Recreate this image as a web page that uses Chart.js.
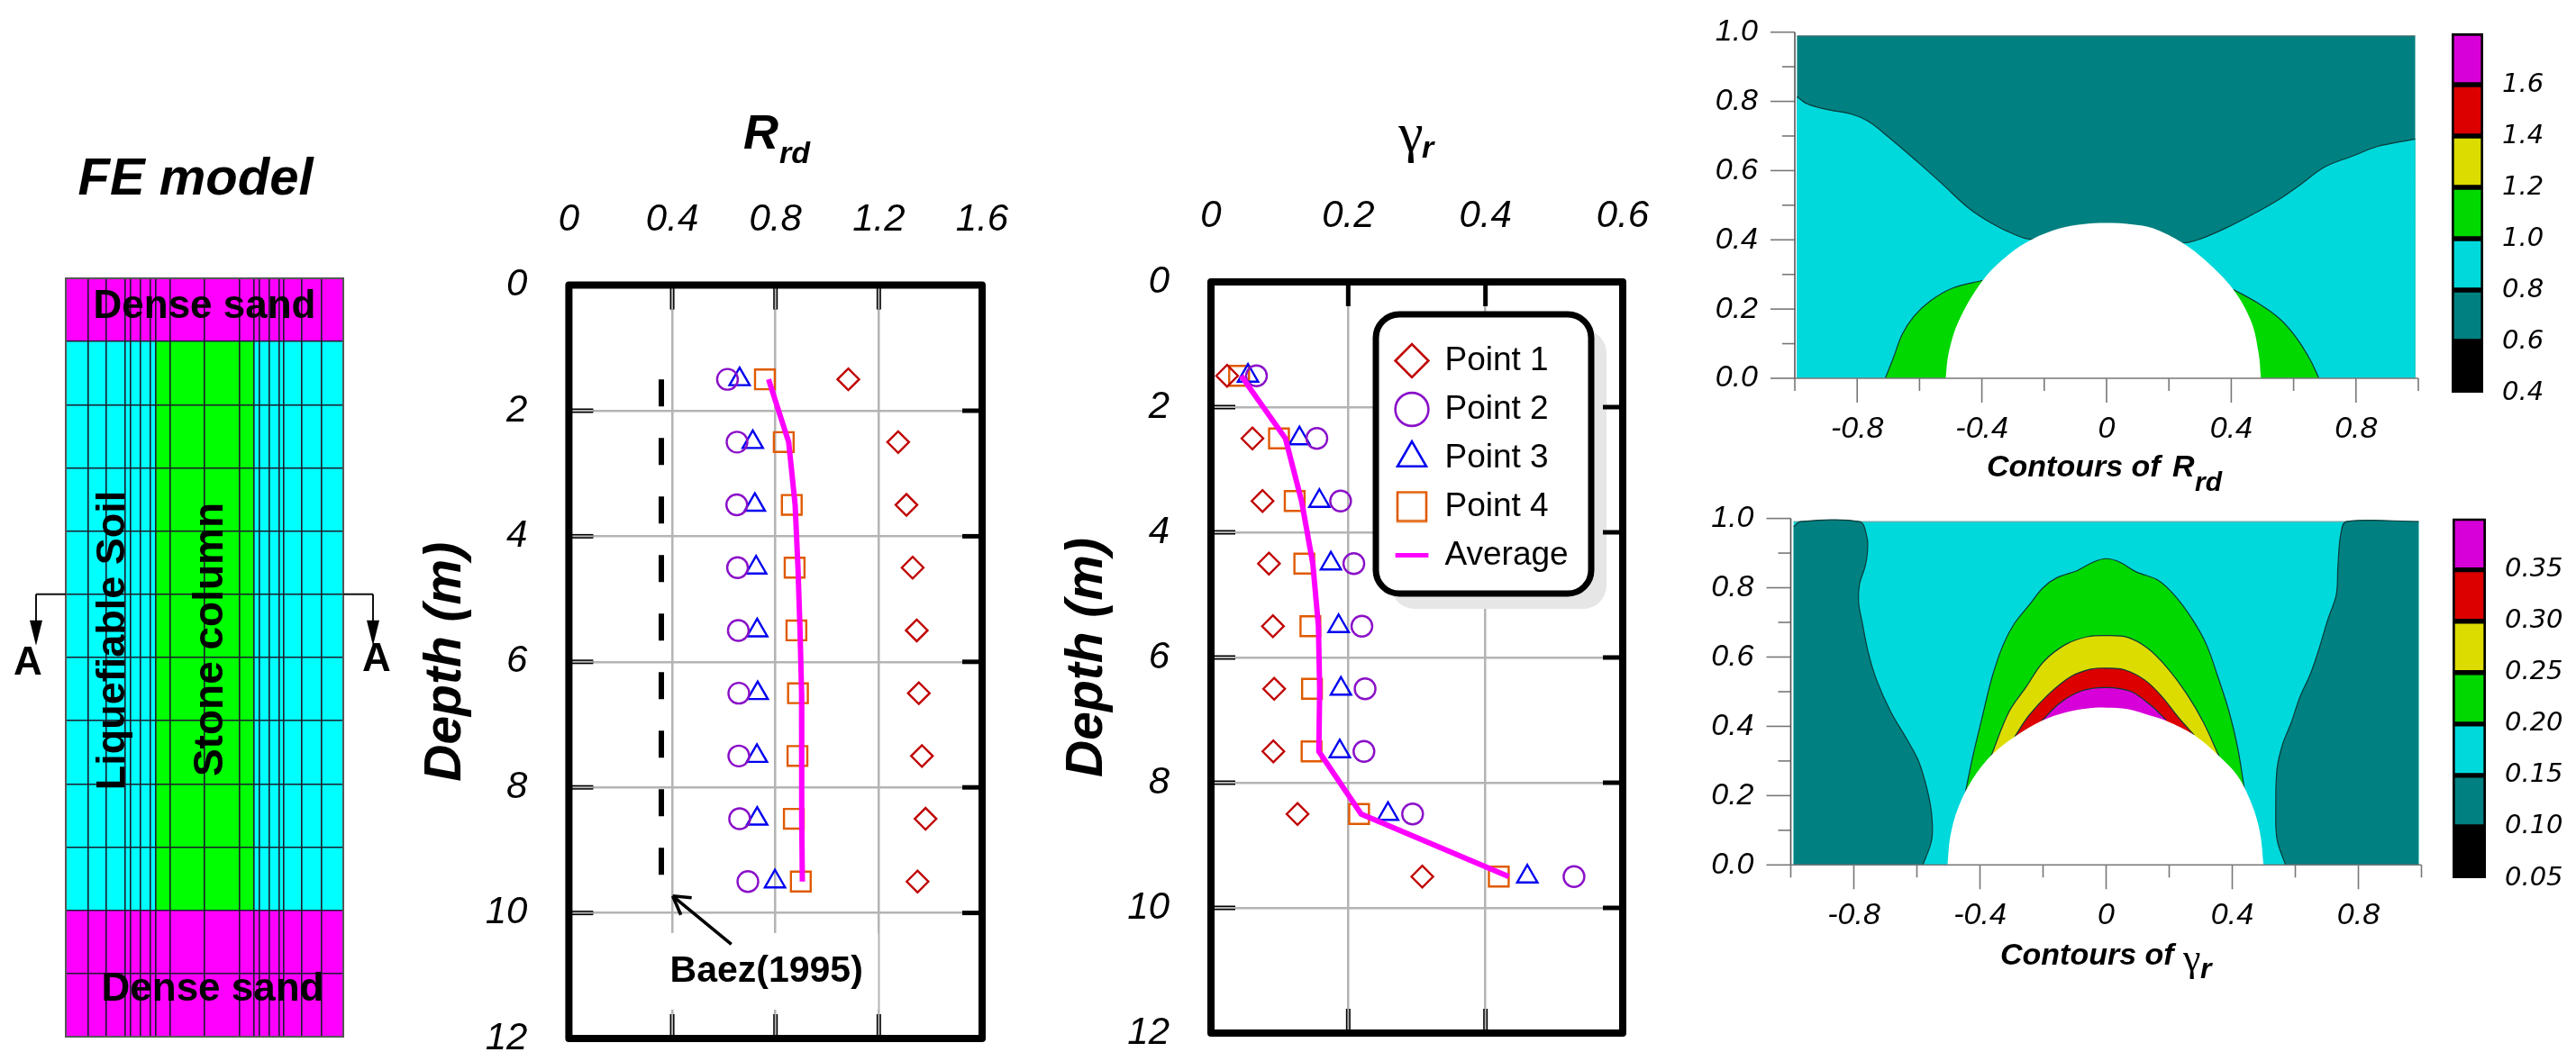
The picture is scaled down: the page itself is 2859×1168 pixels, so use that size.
<!DOCTYPE html>
<html><head><meta charset="utf-8">
<style>html,body{margin:0;padding:0;background:#fff;width:2859px;height:1168px;overflow:hidden}canvas{position:absolute}</style>
<script src="https://cdn.jsdelivr.net/npm/chart.js@4"></script>
</head><body>
<script>
// ---------- DATA ----------
const depths=[1.5,2.5,3.5,4.5,5.5,6.5,7.5,8.5,9.5];
const rrdPoint1=[1.082,1.275,1.307,1.331,1.347,1.355,1.367,1.381,1.350];
const rrdPoint2=[.614,.651,.650,.653,.656,.658,.658,.661,.693];
const rrdPoint3=[.661,.712,.720,.725,.729,.731,.728,.729,.798];
const rrdPoint4=[.759,.832,.863,.874,.881,.887,.885,.871,.898];
const rrdAverage=[.773,.851,.876,.887,.895,.901,.902,.901,.904];
const baezValues=[.358,.358,.358,.358,.358,.358,.358,.358,.358];
const gamPoint1=[.0235,.0604,.0751,.0845,.0903,.0921,.0909,.1261,.3079];
const gamPoint2=[.0663,.1543,.1889,.2082,.2199,.2246,.2229,.2938,.529];
const gamPoint3=[.054,.129,.158,.1748,.186,.1894,.1877,.258,.461];
const gamPoint4=[.041,.0991,.122,.136,.1449,.1472,.1466,.2158,.4194];
const gamAverage=[.044,.1085,.132,.1484,.1566,.1584,.1572,.2188,.434];
const depthTicks=[0,2,4,6,8,10,12];
const rrdTicks=[0,.4,.8,1.2,1.6];
const gamTicks=[0,.2,.4,.6];
const seriesNames=['Point 1','Point 2','Point 3','Point 4','Average'];

const feColumns=[-.836,-.708,-.573,-.537,-.461,-.388,-.353,-.251,0,.253,.355,.392,.466,.539,.573,.703,.842];
const feRows=[0,1,2,3,4,5,6,7,8,9,10,11,12];
const feStoneColumn=[-.353,.355];
const feSoilLayers=[1,10];

const contourYTicks=[0,.2,.4,.6,.8,1];
const contourYMinor=[.1,.3,.5,.7,.9];
const contourXTicks=[-.8,-.4,0,.4,.8];
const contourXMinor=[-1,-.6,-.2,.2,.6,1];

const rrdTop=[[-.993,.989],[.99,.989]];
const rrdCyan=[[-.993,.814],[-.963,.794],[-.899,.777],[-.818,.763],[-.764,.742],[-.701,.698],[-.610,.628],[-.529,.563],[-.439,.489],[-.367,.447],[-.294,.415],[-.240,.401],[.244,.391],[.302,.403],[.392,.438],[.482,.480],[.554,.517],[.627,.563],[.699,.610],[.789,.642],[.870,.670],[.934,.682],[.990,.691]];
const rrdGreenL=[[-.710,0],[-.683,.061],[-.656,.126],[-.619,.178],[-.565,.224],[-.493,.261],[-.397,.283]];
const rrdGreenR=[[.406,.257],[.482,.219],[.554,.173],[.609,.117],[.654,.052],[.681,0]];
const rrdHole=[[-.516,0],[-.507,.071],[-.475,.164],[-.397,.283],[-.312,.359],[-.240,.401],[-.150,.433],[-.078,.445],[0,.449],[.078,.445],[.150,.433],[.244,.391],[.320,.338],[.406,.257],[.464,.164],[.488,.071],[.495,0]];

const gamTop=[[-.991,.991],[.991,.991]];
const gamTealL=[[-.991,.976],[-.970,.991],[-.782,.991],[-.758,.944],[-.757,.903],[-.764,.862],[-.782,.810],[-.785,.759],[-.773,.698],[-.755,.616],[-.728,.534],[-.683,.442],[-.630,.360],[-.594,.298],[-.567,.216],[-.553,.144],[-.553,.073],[-.581,0]];
const gamTealR=[[.991,.991],[.762,.991],[.744,.954],[.735,.862],[.730,.780],[.703,.708],[.676,.626],[.649,.554],[.614,.483],[.587,.411],[.560,.349],[.542,.278],[.538,.165],[.542,.073],[.569,0]];
const gamGreen=[[-.447,.206],[-.424,.308],[-.397,.411],[-.361,.544],[-.326,.636],[-.290,.698],[-.245,.749],[-.200,.800],[-.156,.829],[-.093,.849],[-.039,.875],[0,.884],[.041,.875],[.095,.846],[.166,.821],[.220,.775],[.274,.708],[.318,.636],[.354,.544],[.390,.442],[.417,.339],[.440,.211]];
const gamYellow=[[-.365,.314],[-.308,.442],[-.254,.513],[-.200,.585],[-.129,.636],[-.057,.659],[0,.662],[.068,.657],[.131,.626],[.193,.570],[.256,.493],[.309,.411],[.358,.314]];
const gamRed=[[-.290,.370],[-.245,.431],[-.182,.493],[-.111,.544],[-.048,.565],[0,.568],[.059,.563],[.122,.534],[.175,.488],[.229,.426],[.279,.375]];
const gamMagenta=[[-.204,.416],[-.147,.467],[-.075,.503],[0,.512],[.077,.501],[.140,.462],[.190,.419]];
const gamHole=[[-.503,0],[-.494,.083],[-.469,.165],[-.424,.247],[-.361,.319],[-.290,.370],[-.204,.416],[-.129,.440],[-.057,.452],[0,.454],[.068,.450],[.140,.431],[.190,.416],[.279,.375],[.358,.314],[.417,.257],[.462,.175],[.488,.093],[.499,0]];

const rrdLevels=[.4,.6,.8,1,1.2,1.4,1.6,1.8];
const rrdLevelLabels=[.4,.6,.8,1,1.2,1.4,1.6];
const gamLevels=[.05,.1,.15,.2,.25,.3,.35,.4];
const gamLevelLabels=[.05,.1,.15,.2,.25,.3,.35];

// ---------- STYLE ----------
const FF="'Liberation Sans'";
const C={teal:'#008080',cyan:'#00d9dc',green:'#00d800',yellow:'#dcdc00',red:'#dc0000',mag:'#d800d8',black:'#000',
 feMag:'#ff00ff',feCyan:'#00ffff',feGreen:'#00ff00',diamond:'#c00000',circle:'#8a10c8',tri:'#0000f0',square:'#e05a00',avg:'#ff00ff',grid:'#b4b4b4'};
const bandColors=[C.black,C.teal,C.cyan,C.green,C.yellow,C.red,C.mag];
const pts=(xs)=>xs.map((x,i)=>({x,y:depths[i]}));
const xy=a=>a.map(p=>({x:p[0],y:p[1]}));

Chart.register({id:'polyFill',beforeDatasetDraw(chart,args){
  const ds=chart.data.datasets[args.index]; if(!ds.polyColor) return;
  const line=args.meta.dataset, ctx=chart.ctx, sx=chart.scales.x, sy=chart.scales.y, d=ds.data;
  line.updateControlPoints(chart.chartArea,'x');
  ctx.save(); ctx.fillStyle=ds.polyColor; ctx.beginPath(); line.path(ctx);
  if(ds.polyBase!==undefined){
    ctx.lineTo(sx.getPixelForValue(d[d.length-1].x),sy.getPixelForValue(ds.polyBase));
    ctx.lineTo(sx.getPixelForValue(d[0].x),sy.getPixelForValue(ds.polyBase));
  }
  ctx.closePath(); ctx.fill(); ctx.restore();
}});

function poly(data,color,base,stroke,tension){
  return {type:'scatter',data:xy(data),showLine:true,pointRadius:0,polyColor:color,polyBase:base,
    borderColor:stroke||'transparent',borderWidth:stroke?1.2:0,tension:tension===undefined?.35:tension};
}
function makeChart(f,a,mode,cfg){
  const cv=document.createElement('canvas');
  cv.style.left=f.x+'px';cv.style.top=f.y+'px';cv.width=f.w;cv.height=f.h;
  cv.style.width=f.w+'px';cv.style.height=f.h+'px';
  document.body.appendChild(cv);
  const o=cfg.options=cfg.options||{};
  o.responsive=false;o.animation=false;o.devicePixelRatio=1;
  const right=f.x+f.w-a.r,bottom=f.y+f.h-a.b;
  if(mode==='top'){
    o.layout={padding:{left:0,top:0,right,bottom}};
    o.scales.x.afterFit=s=>{s.height=a.t-f.y};
    o.scales.y.afterFit=s=>{s.width=a.l-f.x};
  }else if(mode==='bottom'){
    o.layout={padding:{left:0,top:a.t-f.y,right,bottom:0}};
    o.scales.x.afterFit=s=>{s.height=bottom};
    o.scales.y.afterFit=s=>{s.width=a.l-f.x};
  }else{
    o.layout={padding:{left:a.l-f.x,top:a.t-f.y,right:0,bottom}};
    o.scales.y.afterFit=s=>{s.width=right};
  }
  return new Chart(cv,cfg);
}
function txt(chart,s,px,py,font,align,rot,base){
  const c=chart.ctx,cv=chart.canvas;
  c.save();c.translate(px-cv.offsetLeft,py-cv.offsetTop);if(rot)c.rotate(rot);
  c.font=font;c.fillStyle='#000';c.textAlign=align||'center';c.textBaseline=base||'middle';c.fillText(s,0,0);c.restore();
}
function seg(c,x0,y0,x1,y1,col,w){c.strokeStyle=col;c.lineWidth=w;c.lineCap='butt';c.beginPath();c.moveTo(x0,y0);c.lineTo(x1,y1);c.stroke();}

// ---------- FE MODEL ----------
const feArea={l:73,r:381,t:309,b:1151};
const rect=(x0,x1,y0,y1,col)=>poly([[x0,y0],[x1,y0],[x1,y1],[x0,y1]],col,undefined,null,0);
makeChart({x:0,y:150,w:450,h:1050},feArea,'top',{
  type:'scatter',
  data:{datasets:[
    rect(feStoneColumn[0],feStoneColumn[1],feSoilLayers[0],feSoilLayers[1],C.feGreen),
    rect(-1,1,feSoilLayers[0],feSoilLayers[1],C.feCyan),
    rect(-1,1,0,feSoilLayers[0],C.feMag),
    rect(-1,1,feSoilLayers[1],12,C.feMag)
  ]},
  options:{plugins:{legend:{display:false},tooltip:{enabled:false}},
    scales:{
      x:{type:'linear',position:'top',min:-1,max:1,border:{display:false},ticks:{display:false},
         grid:{z:1,color:'#1c1c2c',lineWidth:1.6,drawTicks:false},afterBuildTicks:s=>{s.ticks=[-1,...feColumns,1].map(value=>({value}))}},
      y:{type:'linear',reverse:true,min:0,max:12,border:{display:false},ticks:{display:false},
         grid:{z:1,color:'#1c1c2c',lineWidth:1.6,drawTicks:false},afterBuildTicks:s=>{s.ticks=feRows.map(value=>({value}))}}
    }},
  plugins:[{id:'feAnno',afterDraw(ch){
    const c=ch.ctx;
    const A=ch.chartArea;
    c.strokeStyle='#555';c.lineWidth=2;c.strokeRect(A.left,A.top,A.right-A.left,A.bottom-A.top);
    txt(ch,'FE model',217,200,`italic bold 58px ${FF}`);
    txt(ch,'Dense sand',227,341,`bold 44px ${FF}`);
    txt(ch,'Dense sand',236,1099,`bold 44px ${FF}`);
    txt(ch,'Liquefiable Soil',138,711,`bold 45px ${FF}`,'center',-Math.PI/2,'alphabetic');
    txt(ch,'Stone column',247,710,`bold 46px ${FF}`,'center',-Math.PI/2,'alphabetic');
    const y=ch.scales.y.getPixelForValue(5);
    [[40,73],[414,381]].forEach(([ax,edge])=>{
      seg(c,edge,y,ax,y,'#111',2);seg(c,ax,y,ax,y+34,'#111',2);
      c.fillStyle='#000';c.beginPath();c.moveTo(ax-7,y+29);c.lineTo(ax+7,y+29);c.lineTo(ax,y+57);c.closePath();c.fill();
    });
    txt(ch,'A',31,737,`bold 44px ${FF}`);
    txt(ch,'A',418,733,`bold 44px ${FF}`);
  }}]
});

// ---------- PROFILE CHARTS ----------
function profileDatasets(p1,p2,p3,p4,avg){
  const mk=(d,name,style,col,r)=>({label:name,type:'scatter',data:pts(d),showLine:false,pointStyle:style,pointRadius:r,
    pointBorderColor:col,pointBackgroundColor:'transparent',pointBorderWidth:2.4,borderColor:col,backgroundColor:'transparent'});
  return [
    mk(p1,seriesNames[0],'rectRot',C.diamond,12),
    mk(p2,seriesNames[1],'circle',C.circle,11.5),
    mk(p3,seriesNames[2],'triangle',C.tri,13),
    mk(p4,seriesNames[3],'rect',C.square,15.5),
    {label:seriesNames[4],type:'scatter',data:pts(avg),showLine:true,pointRadius:0,pointStyle:'line',order:-1,
      borderColor:C.avg,borderWidth:6,tension:0}
  ];
}
function profileScales(xTicks,xMax){
  return {
    x:{type:'linear',position:'top',min:0,max:xMax,border:{display:false},
      grid:{color:C.grid,lineWidth:2.5,drawTicks:false},
      afterBuildTicks:s=>{s.ticks=xTicks.map(value=>({value}))},
      ticks:{autoSkip:false,maxRotation:0,minRotation:0,color:'#000',padding:47,font:{family:FF,style:'italic',size:42},callback:v=>String(v)}},
    y:{type:'linear',reverse:true,min:0,max:12,border:{display:false},
      grid:{color:C.grid,lineWidth:2.5,drawTicks:false},
      afterBuildTicks:s=>{s.ticks=depthTicks.map(value=>({value}))},
      ticks:{autoSkip:false,color:'#000',padding:46,font:{family:FF,style:'italic',size:42},callback:v=>String(v)},
      title:{display:true,text:'Depth (m)',color:'#000',padding:0,font:{family:FF,style:'italic',weight:'bold',size:57}}}
  };
}
function frameDraw(ch,topGray,bottomGray){
  const c=ch.ctx,A=ch.chartArea;
  c.save();
  const tick=(x0,y0,x1,y1,gray)=>{seg(c,x0,y0,x1,y1,'#000',5);if(gray)seg(c,x0,y0,x1,y1,C.grid,2);};
  ch.scales.x.ticks.forEach(t=>{ if(t.value===0||t.value===ch.scales.x.max)return;
    const p=ch.scales.x.getPixelForValue(t.value);
    tick(p,A.top,p,A.top+27,topGray);tick(p,A.bottom,p,A.bottom-27,bottomGray);});
  ch.scales.y.ticks.forEach(t=>{ if(t.value===0||t.value===12)return;
    const p=ch.scales.y.getPixelForValue(t.value);
    tick(A.left,p,A.left+27,p,true);tick(A.right,p,A.right-22,p,false);});
  c.strokeStyle='#000';c.lineWidth=8;c.lineJoin='round';c.strokeRect(A.left,A.top,A.right-A.left,A.bottom-A.top);
  c.restore();
}

// Rrd
makeChart({x:461,y:100,w:729,h:1150},{l:631.4,r:1090,t:316.6,b:1153},'top',{
  type:'scatter',
  data:{datasets:[...profileDatasets(rrdPoint1,rrdPoint2,rrdPoint3,rrdPoint4,rrdAverage),
    {label:'Baez(1995)',type:'scatter',data:pts(baezValues),showLine:true,pointRadius:0,borderColor:'#000',borderWidth:6,borderDash:[30,35],tension:0}]},
  options:{plugins:{legend:{display:false},tooltip:{enabled:false}},scales:profileScales(rrdTicks,1.6)},
  plugins:[{id:'rrdAnno',
    beforeDatasetsDraw(ch){
      const c=ch.ctx,X=v=>ch.scales.x.getPixelForValue(v),Y=v=>ch.scales.y.getPixelForValue(v);
      c.save();c.fillStyle='#fff';c.fillRect(X(.364),Y(10.32),X(1.197)-X(.364),Y(11.54)-Y(10.32));c.restore();
    },
    afterDraw(ch){
      frameDraw(ch,true,true);
      const c=ch.ctx,X=v=>ch.scales.x.getPixelForValue(v),Y=v=>ch.scales.y.getPixelForValue(v);
      c.save();
      const tx=X(.402),ty=Y(9.73);
      seg(c,X(.629),Y(10.5),tx,ty,'#000',3.6);
      seg(c,tx,ty,tx+9,ty+21,'#000',3.6);seg(c,tx,ty,tx+21,ty+2,'#000',3.6);
      c.restore();
      txt(ch,'Baez(1995)',X(.765)+ch.canvas.offsetLeft,Y(10.93)+ch.canvas.offsetTop,`bold 41px ${FF}`);
      txt(ch,'R',825,150,`italic bold 54px ${FF}`,'left');
      txt(ch,'rd',865,172,`italic bold 34px ${FF}`,'left');
    }}]
});

// Gamma
const squareIcon=document.createElement('canvas');squareIcon.width=36;squareIcon.height=36;
{const g=squareIcon.getContext('2d');g.strokeStyle=C.square;g.lineWidth=2.6;g.strokeRect(2,2,32,32);}
makeChart({x:1173,y:100,w:720,h:1130},{l:1344,r:1801,t:313,b:1147},'top',{
  type:'scatter',
  data:{datasets:profileDatasets(gamPoint1,gamPoint2,gamPoint3,gamPoint4,gamAverage)},
  options:{plugins:{tooltip:{enabled:false},
    legend:{display:true,position:'chartArea',align:'start',labels:{usePointStyle:true,boxWidth:36,boxHeight:26,padding:17,color:'#000',
      font:{family:FF,size:37},
      generateLabels:ch=>ch.data.datasets.map((d,i)=>({text:d.label,datasetIndex:i,hidden:false,fontColor:'#000',
        fillStyle:'transparent',strokeStyle:i===4?C.avg:d.pointBorderColor,lineWidth:i===4?5:2.6,
        pointStyle:i===3?squareIcon:d.pointStyle,rotation:0}))}}},
    scales:profileScales(gamTicks,.6)},
  plugins:[{id:'gamAnno',
    afterLayout(ch){const L=ch.legend,o=ch.canvas;
      L.left=1532-o.offsetLeft;L.right=1766-o.offsetLeft;L.top=365-o.offsetTop;L.bottom=680-o.offsetTop;L.width=L.right-L.left;L.height=L.bottom-L.top;},
    afterDatasetsDraw(ch){
      const c=ch.ctx,o=ch.canvas,x=1527-o.offsetLeft,y=349-o.offsetTop,w=239,h=310;
      c.save();
      c.fillStyle='#e6e6e6';c.beginPath();c.roundRect(x+17,y+17,w,h,26);c.fill();
      c.fillStyle='#fff';c.strokeStyle='#000';c.lineWidth=7;c.beginPath();c.roundRect(x,y,w,h,26);c.fill();c.stroke();
      c.restore();
      ch.legend.draw();
    },
    afterDraw(ch){
      frameDraw(ch,false,true);
      txt(ch,'\u03B3',1566,152,`62px 'Liberation Serif'`,'center');
      txt(ch,'r',1578,166,`italic bold 34px ${FF}`,'left');
    }}]
});

// ---------- CONTOUR CHARTS ----------
function contourScales(){
  return {
    x:{type:'linear',position:'bottom',min:-1,max:1,border:{display:false},grid:{display:false,drawTicks:false},
      afterBuildTicks:s=>{s.ticks=contourXTicks.map(value=>({value}))},
      ticks:{autoSkip:false,maxRotation:0,minRotation:0,color:'#000',padding:36,font:{family:FF,style:'italic',size:34},callback:v=>String(v)}},
    y:{type:'linear',min:0,max:1,border:{display:false},grid:{display:false,drawTicks:false},
      afterBuildTicks:s=>{s.ticks=contourYTicks.map(value=>({value}))},
      ticks:{autoSkip:false,color:'#000',padding:41,font:{family:FF,style:'italic',size:34},callback:v=>Number(v).toFixed(1)}}
  };
}
function contourTicks(ch){
  const c=ch.ctx,A=ch.chartArea,X=v=>ch.scales.x.getPixelForValue(v),Y=v=>ch.scales.y.getPixelForValue(v),col='#777';
  c.save();
  contourYTicks.forEach(v=>seg(c,A.left-27,Y(v),A.left,Y(v),col,1.6));
  contourYMinor.forEach(v=>seg(c,A.left-14,Y(v),A.left,Y(v),col,1.6));
  contourXTicks.forEach(v=>seg(c,X(v),A.bottom,X(v),A.bottom+27,col,1.6));
  contourXMinor.forEach(v=>seg(c,X(v),A.bottom,X(v),A.bottom+14,col,1.6));
  seg(c,A.left,A.top,A.left,A.bottom,'#555',1.6);
  seg(c,A.left,A.bottom,A.right,A.bottom,col,1.6);
  c.restore();
}
const lineC='#0a3a3a';
makeChart({x:1900,y:-50,w:800,h:610},{l:1992,r:2684,t:35.7,b:420},'bottom',{
  type:'scatter',
  data:{datasets:[
    poly(rrdHole,'#fff',0),
    poly(rrdGreenL,C.green,0,lineC),
    poly(rrdGreenR,C.green,0,lineC),
    poly(rrdCyan,C.cyan,0,lineC),
    poly(rrdTop,C.teal,0,'#4a6a6a',0)
  ]},
  options:{plugins:{legend:{display:false},tooltip:{enabled:false}},scales:contourScales()},
  plugins:[{id:'rrdContour',afterDraw(ch){
    contourTicks(ch);
    txt(ch,'Contours of ',2205,520,`italic bold 34px ${FF}`,'left');
    txt(ch,'R',2411,520,`italic bold 34px ${FF}`,'left');
    txt(ch,'rd',2436,537,`italic bold 30px ${FF}`,'left');
  }}]
});
makeChart({x:1900,y:495,w:800,h:650},{l:1987.5,r:2687.5,t:575.6,b:960.3},'bottom',{
  type:'scatter',
  data:{datasets:[
    poly(gamHole,'#fff',0),
    poly(gamMagenta,C.mag,0,lineC),
    poly(gamRed,C.red,0,lineC),
    poly(gamYellow,C.yellow,0,lineC),
    poly(gamGreen,C.green,0,lineC),
    poly(gamTealL,C.teal,0,lineC),
    poly(gamTealR,C.teal,0,lineC),
    poly(gamTop,C.cyan,0,'#7aa',0)
  ]},
  options:{plugins:{legend:{display:false},tooltip:{enabled:false}},scales:contourScales()},
  plugins:[{id:'gamContour',afterDraw(ch){
    contourTicks(ch);
    txt(ch,'Contours of ',2220,1062,`italic bold 34px ${FF}`,'left');
    txt(ch,'\u03B3',2423,1066,`44px 'Liberation Serif'`,'left');
    txt(ch,'r',2442,1077,`italic bold 32px ${FF}`,'left');
  }}]
});

// ---------- COLOUR BARS ----------
function colorBar(frame,area,levels,labels,fmt){
  const lo=levels[0],hi=levels[levels.length-1];
  makeChart(frame,area,'bar',{
    type:'bar',
    data:{labels:['band'],datasets:bandColors.map((col,i)=>({data:[[levels[i],levels[i+1]]],backgroundColor:col,borderColor:'#000',borderWidth:3,borderSkipped:false,
      barPercentage:1,categoryPercentage:1,grouped:false}))},
    options:{plugins:{legend:{display:false},tooltip:{enabled:false}},
      scales:{
        x:{display:false},
        y:{position:'right',min:lo,max:hi,border:{display:false},grid:{display:false,drawTicks:false},
          afterBuildTicks:s=>{s.ticks=labels.map(value=>({value}))},
          ticks:{autoSkip:false,color:'#000',padding:21,font:{family:"'DejaVu Sans'",style:'italic',size:29},callback:fmt}}
      }}
  });
}
colorBar({x:2700,y:-30,w:159,h:530},{l:2721,r:2756,t:37,b:436},rrdLevels,rrdLevelLabels,v=>Number(v).toFixed(1));
colorBar({x:2700,y:505,w:159,h:535},{l:2722,r:2759,t:575.6,b:975},gamLevels,gamLevelLabels,v=>Number(v).toFixed(2));
</script>
</body></html>
